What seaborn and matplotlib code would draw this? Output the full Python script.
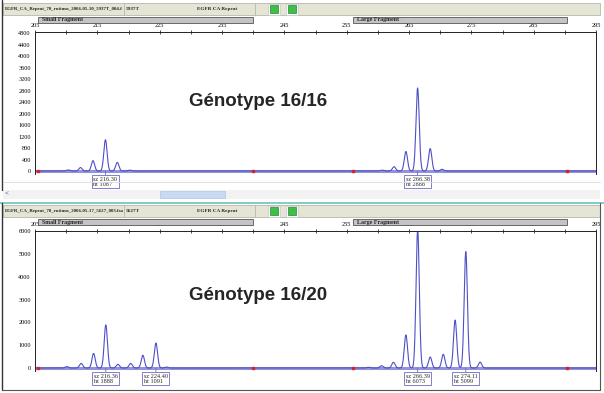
import numpy as np
import pandas as pd
import matplotlib
matplotlib.use("Agg")
import matplotlib.pyplot as plt
import matplotlib.transforms as mtransforms
from matplotlib.patches import Rectangle
from matplotlib.ticker import MultipleLocator
import seaborn as sns

sns.set_style("white")
plt.rcParams['font.family'] = ['Liberation Serif', 'DejaVu Serif']

# peaks (size in bp, height in RFU)
top_pos = [210.3, 212.3, 214.3, 216.30, 218.2, 220.2,
           260.7, 262.6, 264.5, 266.38, 268.4, 270.3]
top_ht = [40, 120, 360, 1087, 300, 30,
          30, 150, 680, 2888, 780, 60]
bot_pos = [210.1, 212.4, 214.4, 216.36, 218.3, 220.35, 222.3, 224.40, 226.1,
           258.5, 260.6, 262.5, 264.5, 266.39, 268.4, 270.5, 272.4, 274.11, 276.4]
bot_ht = [60, 200, 640, 1888, 160, 200, 560, 1091, 40,
          30, 100, 250, 1450, 6073, 480, 600, 2100, 5099, 260]

top_called = [(216.30, 1087), (266.38, 2888)]
bot_called = [(216.36, 1888), (224.40, 1091), (266.39, 6073), (274.11, 5099)]

fragments = [("Small Fragment", 205.5, 240.0), ("Large Fragment", 256.0, 290.4)]
titles = [("EGFR_CA_Repeat_70_rutinus_2006-05-10_5937T_004.f", "5937T"),
          ("EGFR_CA_Repeat_70_rutinus_2006-05-17_5627_003.fsa", "5627T")]
genotypes = ["Génotype 16/16", "Génotype 16/20"]
peak_sd = 0.26


def trace(pos, ht):
    x = np.arange(205, 295.01, 0.02)
    y = np.zeros_like(x)
    for p, h in zip(pos, ht):
        y += h * np.exp(-0.5 * ((x - p) / peak_sd) ** 2)
    return pd.DataFrame({"size": x, "rfu": y})


W, H = 604, 393
fig = plt.figure(figsize=(W / 100, H / 100), dpi=100)
fig.patch.set_facecolor("white")


def fx(px):
    return px / W


def fy(py):
    return 1 - py / H


def frect(x0, y0, x1, y1, **kw):
    fig.add_artist(Rectangle((fx(x0), fy(y1)), (x1 - x0) / W, (y1 - y0) / H,
                             transform=fig.transFigure, **kw))


def fline(xs, ys, **kw):
    fig.add_artist(plt.Line2D([fx(v) for v in xs], [fy(v) for v in ys],
                              transform=fig.transFigure, **kw))


line_col = "#4f4fc8"
base_col = "#9393d6"

panels = [
    dict(top=0, ax_top=32, ax_bot=174, ylim=(-104, 4835), ystep=400, yminor=None,
         pos=top_pos, ht=top_ht, called=top_called, geno_y=101),
    dict(top=202, ax_top=231, ax_bot=371, ylim=(-131, 6000), ystep=1000, yminor=500,
         pos=bot_pos, ht=bot_ht, called=bot_called, geno_y=296),
]

for i, pnl in enumerate(panels):
    t = pnl["top"]
    # title bar
    frect(3, t + 3, 600, t + 15, facecolor="#e5e5d5", edgecolor="#b8b8a8", lw=0.6)
    fline([124, 124], [t + 3, t + 15], color="#b8b8a8", lw=0.6)
    fline([255, 255], [t + 3, t + 15], color="#b8b8a8", lw=0.6)
    fig.text(fx(5), fy(t + 9), titles[i][0], fontsize=3.5, weight="bold", va="center")
    fig.text(fx(126), fy(t + 9), titles[i][1], fontsize=3.8, weight="bold", va="center")
    fig.text(fx(197), fy(t + 9), "EGFR CA Repeat", fontsize=3.8, weight="bold", va="center")
    for gx in (270, 288):
        frect(gx - 2, t + 3.5, gx + 10, t + 14.5, facecolor="white", edgecolor="#c8c8c8", lw=0.5)
        frect(gx, t + 5, gx + 8, t + 13, facecolor="#3fbf4a", edgecolor="#208a2a", lw=0.5)

    ax = fig.add_axes([fx(35), fy(pnl["ax_bot"]), (596 - 35) / W,
                       (pnl["ax_bot"] - pnl["ax_top"]) / H])
    ax.set_facecolor("white")
    df = trace(pnl["pos"], pnl["ht"])
    ax.axhline(0, color=base_col, lw=2.2, zorder=1)
    sns.lineplot(data=df, x="size", y="rfu", ax=ax, color=line_col, lw=0.8,
                 estimator=None, sort=False, zorder=2)
    ax.set_xlim(205, 295)
    ax.set_ylim(*pnl["ylim"])
    ax.set_xlabel("")
    ax.set_ylabel("")

    ax.xaxis.tick_top()
    ax.xaxis.set_minor_locator(MultipleLocator(5))
    ax.set_xticks(np.arange(205, 296, 10))
    if pnl["yminor"]:
        ax.yaxis.set_minor_locator(MultipleLocator(pnl["yminor"]))
    ax.set_yticks(np.arange(0, pnl["ylim"][1] + 1, pnl["ystep"]))
    ax.tick_params(axis="both", which="both", direction="inout", length=3, width=0.5,
                   labelsize=4.5, pad=1.5, colors="black")
    ax.tick_params(axis="x", which="both", top=True, bottom=False)
    for s in ("top", "left", "right"):
        ax.spines[s].set_color("#222222")
        ax.spines[s].set_linewidth(0.7)
    ax.spines["bottom"].set_visible(False)

    # fragment bars above the size scale
    tr = mtransforms.blended_transform_factory(ax.transData, fig.transFigure)
    for name, a, b in fragments:
        fig.add_artist(Rectangle((a, fy(t + 23)), b - a, 6 / H, transform=tr,
                                 facecolor="#c4c4c4", edgecolor="#555555", lw=0.6))
        fig.text(a + 0.6, fy(t + 20), name, transform=tr, fontsize=4.3,
                 weight="bold", va="center")
        ax.plot([a, b], [0, 0], "s", color="#dd2222", ms=1.6, zorder=3, clip_on=False)

    # called-peak boxes
    for p, h in pnl["called"]:
        ax.annotate(f"sz {p:.2f}\nht {h}", xy=(p, 0), xycoords="data",
                    xytext=(0, -4.2), textcoords="offset points",
                    ha="center", va="top", fontsize=4.5, multialignment="left",
                    linespacing=1.0, annotation_clip=False,
                    bbox=dict(boxstyle="square,pad=0.25", fc="white",
                              ec="#6a6ac8", lw=0.6),
                    arrowprops=dict(arrowstyle="-", color="#6a6ac8", lw=0.6,
                                    shrinkA=0, shrinkB=0))

    fig.text(fx(258), fy(pnl["geno_y"]), genotypes[i], ha="center", va="center",
             fontsize=13.5, weight="bold", family=["Liberation Sans", "DejaVu Sans"])

# scroll bar between the two panels
frect(3, 190, 600, 199, facecolor="#f2f2f2", edgecolor="none")
frect(160, 191, 225, 198, facecolor="#c9d9f2", edgecolor="#b0c4e6", lw=0.5)
fig.text(fx(5), fy(194.5), "<", fontsize=5, color="#3060a0", va="center", weight="bold")
fline([0, 604], [202.5, 202.5], color="#6cc4bb", lw=1.2)

# panel borders
fline([2, 2], [0, 190], color="#333333", lw=1.0)
fline([2, 2], [203, 390], color="#333333", lw=1.0)
fline([2, 600], [390, 390], color="#555555", lw=0.8)
fline([600, 600], [203, 390], color="#555555", lw=0.8)
fline([3, 600], [182, 182], color="#dddddd", lw=0.6)

fig.savefig("out.png", dpi=100, facecolor="white")
